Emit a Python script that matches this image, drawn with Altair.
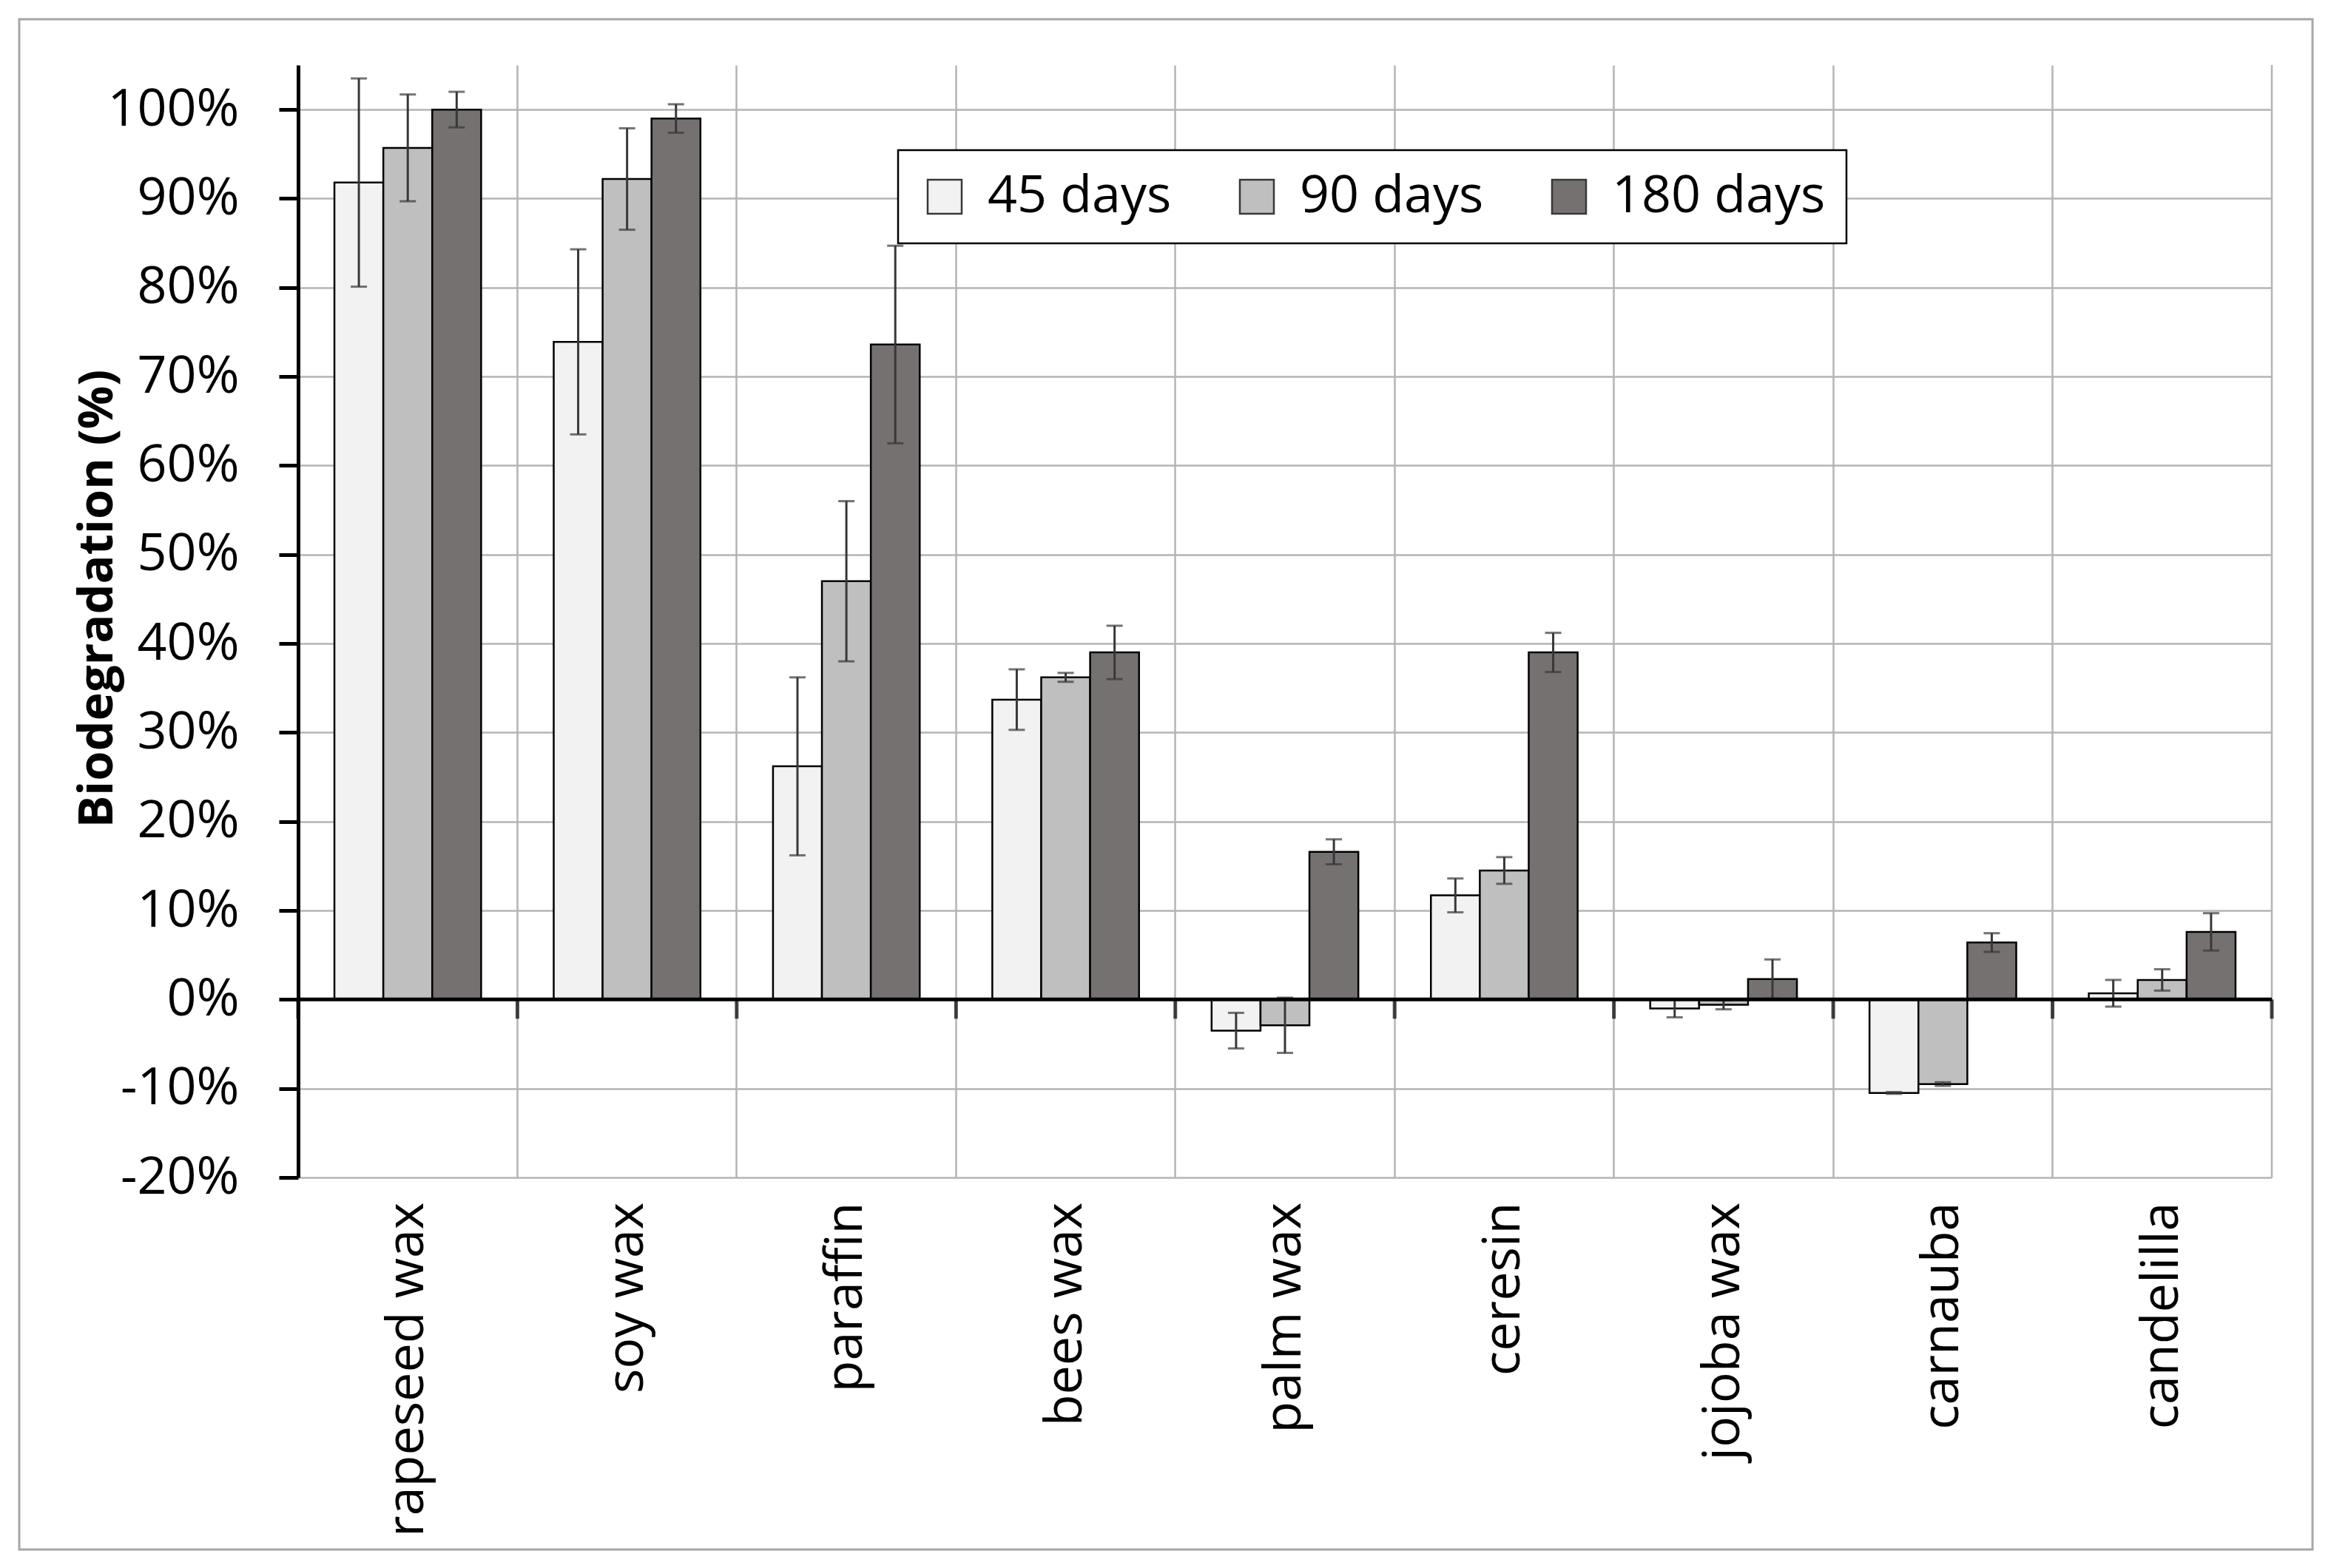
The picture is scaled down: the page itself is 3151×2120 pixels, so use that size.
import altair as alt
import pandas as pd

categories = ["rapeseed wax", "soy wax", "paraffin", "bees wax", "palm wax",
              "ceresin", "jojoba wax", "carnauba", "candelilla"]
periods = ["45 days", "90 days", "180 days"]
colors = ["#f2f2f2", "#bfbfbf", "#767171"]

d45 = [91.8, 73.9, 26.2, 33.7, -3.5, 11.7, -1.0, -10.5, 0.7]
d90 = [95.7, 92.2, 47.0, 36.2, -2.9, 14.5, -0.6, -9.5, 2.2]
d180 = [100.0, 99.0, 73.6, 39.0, 16.6, 39.0, 2.3, 6.4, 7.6]
e45 = [11.7, 10.4, 10.0, 3.4, 2.0, 1.9, 1.0, 0.1, 1.5]
e90 = [6.0, 5.7, 9.0, 0.5, 3.1, 1.5, 0.5, 0.2, 1.2]
e180 = [2.0, 1.6, 11.1, 3.0, 1.4, 2.2, 2.2, 1.05, 2.1]

y_ticks = [-0.2, -0.1, 0.0, 0.1, 0.2, 0.3, 0.4, 0.5, 0.6, 0.7, 0.8, 0.9, 1.0]

rows = []
for p, vals, errs in zip(periods, [d45, d90, d180], [e45, e90, e180]):
    for c, v, e in zip(categories, vals, errs):
        rows.append({"cat": c, "period": p, "value": v / 100,
                     "lo": (v - e) / 100, "hi": (v + e) / 100})
df = pd.DataFrame(rows)
cat_df = pd.DataFrame({"cat": categories})
one = pd.DataFrame({"z": [0]})

FONT = "Open Sans"
GRID = "#b4b4b4"
ERR = "#383838"

y_scale = alt.Scale(domain=[-0.2, 1.05], nice=False, zero=False)
x_scale = alt.Scale(paddingInner=0, paddingOuter=0)

x_axis = alt.Axis(title=None, labelAngle=270, labelFontSize=70, labelFont=FONT,
                  labelColor="black", labelPadding=33, labelLimit=1000,
                  ticks=False, tickSize=0, domain=False, grid=True,
                  gridColor=GRID, gridWidth=2.5, bandPosition=0)
y_axis = alt.Axis(title="Biodegradation (%)", values=y_ticks,
                  labelExpr="replace(format(datum.value, '.0%'), '\u2212', '-')",
                  labelFontSize=70, labelFont=FONT, labelColor="black",
                  labelPadding=54, tickSize=26, tickWidth=5, tickColor="black",
                  domainColor="black", domainWidth=5, grid=True,
                  gridColor=GRID, gridWidth=2.5,
                  titleFont=FONT, titleFontSize=65, titleFontWeight="bold",
                  titleColor="black", titleX=-272, titleY=721,
                  titleBaseline="middle", titleAngle=270)

X = alt.X("cat:N", sort=categories, scale=x_scale, axis=x_axis)
XOFF = alt.XOffset("period:N", sort=periods,
                   scale=alt.Scale(paddingInner=0, paddingOuter=0.742))

bars = alt.Chart(df).mark_bar(stroke="black", strokeWidth=2.5).encode(
    x=X,
    xOffset=XOFF,
    y=alt.Y("value:Q", scale=y_scale, axis=y_axis),
    color=alt.Color("period:N", sort=periods,
                    scale=alt.Scale(domain=periods, range=colors),
                    legend=alt.Legend(orient="none", legendX=811, legendY=115,
                                      direction="horizontal", title=None,
                                      labelFont=FONT, labelFontSize=70,
                                      labelColor="black", labelLimit=1000,
                                      strokeColor="black",
                                      fillColor="white", padding=28,
                                      columnPadding=80, labelOffset=23,
                                      symbolType="square", symbolSize=2116,
                                      symbolStrokeColor=ERR,
                                      symbolStrokeWidth=2.5,
                                      symbolOpacity=1)),
)

err_rules = alt.Chart(df).mark_rule(color=ERR, strokeWidth=3).encode(
    x=X, xOffset=XOFF,
    y=alt.Y("lo:Q", scale=y_scale, axis=y_axis), y2="hi:Q")
caps_hi = alt.Chart(df).mark_tick(color=ERR, size=22, thickness=3,
                                  orient="horizontal").encode(
    x=X, xOffset=XOFF, y=alt.Y("hi:Q", scale=y_scale, axis=y_axis))
caps_lo = alt.Chart(df).mark_tick(color=ERR, size=22, thickness=3,
                                  orient="horizontal").encode(
    x=X, xOffset=XOFF, y=alt.Y("lo:Q", scale=y_scale, axis=y_axis))

zero_line = alt.Chart(one).mark_rule(color="black", strokeWidth=5).encode(
    y=alt.datum(0))

bound_ticks = alt.Chart(cat_df).mark_tick(
    orient="vertical", size=26, thickness=5, color="black", yOffset=13
).encode(x=alt.X("cat:N", sort=categories, scale=x_scale, axis=x_axis,
                 bandPosition=0),
         y=alt.datum(0))

last_df = cat_df[cat_df["cat"] == categories[-1]]
right_grid = alt.Chart(last_df).mark_rule(color=GRID, strokeWidth=2.5).encode(
    x=alt.X("cat:N", sort=categories, scale=x_scale, axis=x_axis, bandPosition=1),
    y=alt.datum(-0.2), y2=alt.datum(1.05))
right_tick = alt.Chart(last_df).mark_tick(
    orient="vertical", size=26, thickness=5, color="black", yOffset=13
).encode(x=alt.X("cat:N", sort=categories, scale=x_scale, axis=x_axis,
                 bandPosition=1),
         y=alt.datum(0))

frame = alt.Chart(one).mark_rect(fill="white", fillOpacity=0, stroke="#a6a6a6",
                                 strokeWidth=3).encode(
    x=alt.value(-377), x2=alt.value(2723), y=alt.value(-62), y2=alt.value(2007))

chart = alt.layer(
    right_grid, bars, err_rules, caps_hi, caps_lo, zero_line, bound_ticks,
    right_tick, frame
).properties(
    width=2668, height=1504,
    autosize=alt.AutoSizeParams(type="none"),
    padding={"left": 395, "top": 80, "right": 64, "bottom": 512},
    background="white",
).configure_view(stroke=None).configure_legend(strokeWidth=2.5)

chart.save("out.html", embed_options={"renderer": "svg", "actions": False})
